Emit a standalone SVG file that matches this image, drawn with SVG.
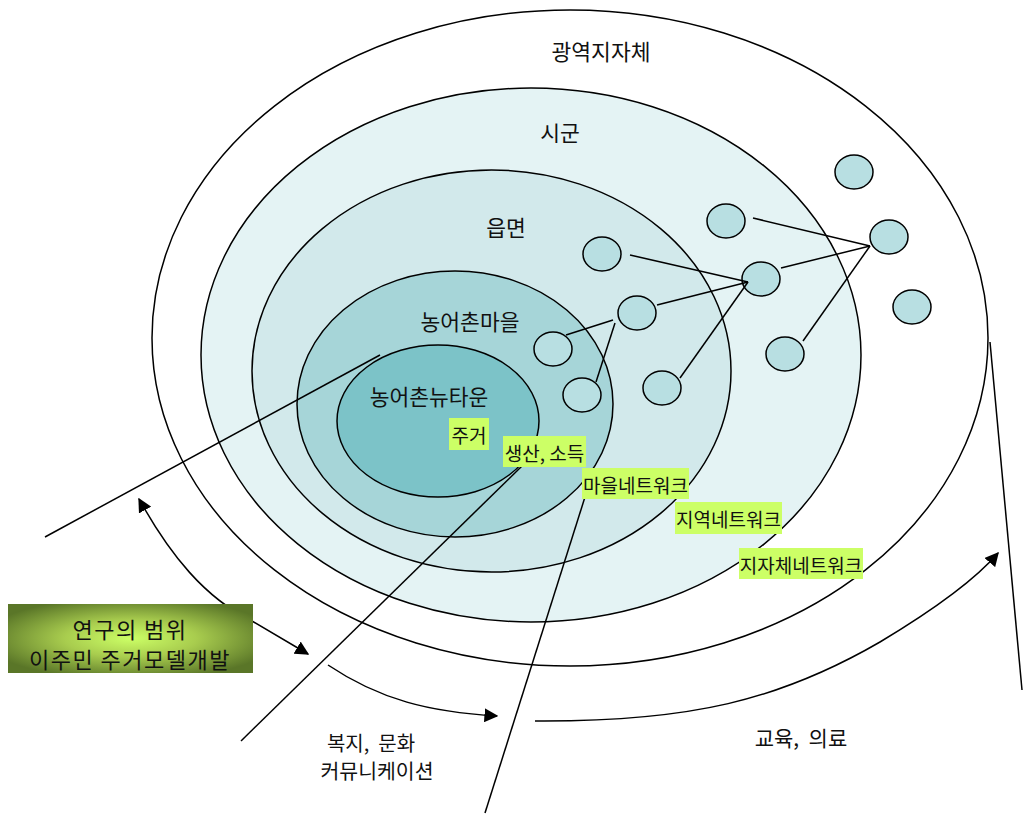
<svg xmlns="http://www.w3.org/2000/svg" width="1023" height="815" viewBox="0 0 1023 815">
<defs>
<style>
.ring{stroke:#000;stroke-width:1.5}
.dot{fill:#b8dfe2;stroke:#000;stroke-width:1.5}
.ln{stroke:#000;stroke-width:1.5;fill:none}
.t{font-family:"Noto Sans CJK KR","Liberation Sans",sans-serif;font-size:21.5px;fill:#111;text-anchor:middle;dominant-baseline:central;white-space:pre}
.lb{fill:#ccff66}
.bt{font-family:"Noto Sans CJK KR","Liberation Sans",sans-serif;font-size:19px;fill:#111;text-anchor:middle;dominant-baseline:central}
</style>
<radialGradient id="gbox" cx="0.5" cy="0.5" r="0.6">
<stop offset="0" stop-color="#ccff66"/>
<stop offset="0.45" stop-color="#a8cc4e"/>
<stop offset="1" stop-color="#5a7628"/>
</radialGradient>
<marker id="ah" viewBox="0 0 10 10" refX="9" refY="5" markerWidth="14" markerHeight="14" markerUnits="userSpaceOnUse" orient="auto-start-reverse">
<path d="M0,0 L10,5 L0,10 z" fill="#000"/>
</marker>
</defs>

<g id="region-gwangyeok">
<ellipse class="ring" cx="570" cy="338" rx="418" ry="328" fill="#ffffff"/>
<text class="t" x="601" y="50">광역지자체</text>
</g>
<g id="region-sigun">
<ellipse class="ring" cx="531" cy="355" rx="330" ry="267" fill="#e4f3f4"/>
<text class="t" x="560" y="131">시군</text>
</g>
<g id="region-eupmyeon">
<ellipse class="ring" cx="491.5" cy="371" rx="239.5" ry="201" fill="#d2e9eb"/>
<text class="t" x="506" y="226">읍면</text>
</g>
<g id="region-maeul">
<ellipse class="ring" cx="455" cy="404" rx="158" ry="133" fill="#a6d5d8"/>
<text class="t" x="470" y="320">농어촌마을</text>
</g>
<g id="region-newtown">
<ellipse class="ring" cx="438" cy="421" rx="101" ry="76" fill="#7cc3c8"/>
<text class="t" x="429" y="395">농어촌뉴타운</text>
</g>

<g id="dots">
<ellipse id="n1" class="dot" cx="854" cy="172" rx="19" ry="17"/>
<ellipse id="n2" class="dot" cx="726" cy="221" rx="19" ry="17"/>
<ellipse id="n3" class="dot" cx="602" cy="254" rx="19" ry="17"/>
<ellipse id="n4" class="dot" cx="889" cy="237" rx="19" ry="17"/>
<ellipse id="n5" class="dot" cx="761" cy="279" rx="19" ry="17"/>
<ellipse id="n6" class="dot" cx="637" cy="313" rx="19" ry="17"/>
<ellipse id="n7" class="dot" cx="912" cy="307" rx="19" ry="17"/>
<ellipse id="n8" class="dot" cx="553" cy="349" rx="19" ry="17"/>
<ellipse id="n9" class="dot" cx="785" cy="354" rx="19" ry="17"/>
<ellipse id="n10" class="dot" cx="582" cy="395" rx="19" ry="17"/>
<ellipse id="n11" class="dot" cx="662" cy="388" rx="19" ry="17"/>
</g>

<g id="connectors">
<line class="ln" x1="753" y1="218" x2="870" y2="246"/>
<line class="ln" x1="781" y1="268" x2="870" y2="246"/>
<line class="ln" x1="803" y1="341" x2="870" y2="246"/>
<line class="ln" x1="630" y1="255" x2="748" y2="282"/>
<line class="ln" x1="657" y1="305" x2="748" y2="282"/>
<line class="ln" x1="680" y1="378" x2="748" y2="282"/>
<line class="ln" x1="566" y1="335" x2="613" y2="320"/>
<line class="ln" x1="596" y1="382" x2="615" y2="323"/>
<line class="ln" x1="45" y1="537" x2="380" y2="355"/>
<line class="ln" x1="523" y1="465" x2="241" y2="741"/>
<line class="ln" x1="585" y1="497" x2="485" y2="813"/>
<line class="ln" x1="990" y1="342" x2="1022" y2="690"/>
<path class="ln" d="M308,654 L252,621 C205,598 170,555 139,499" marker-start="url(#ah)" marker-end="url(#ah)"/>
<path class="ln" d="M328,665 C380,700 430,712 497,716" marker-end="url(#ah)"/>
<path class="ln" d="M535,721 C690,722 780,700 880,642 C930,612 975,580 998,553" marker-end="url(#ah)"/>
</g>

<g id="label-jugeo">
<rect class="lb" x="449" y="418" width="40" height="32"/>
<text class="bt" x="469" y="434">주거</text>
</g>
<g id="label-saengsan">
<rect class="lb" x="503" y="436" width="83" height="31"/>
<text class="bt" x="544.5" y="452">생산, 소득</text>
</g>
<g id="label-maeulnet">
<rect class="lb" x="582" y="468" width="107" height="31"/>
<text class="bt" x="635.5" y="484">마을네트워크</text>
</g>
<g id="label-jiyeoknet">
<rect class="lb" x="675" y="502" width="107" height="32"/>
<text class="bt" x="728.5" y="518">지역네트워크</text>
</g>
<g id="label-jijachenet">
<rect class="lb" x="739" y="548" width="124" height="31"/>
<text class="bt" x="801" y="564">지자체네트워크</text>
</g>

<g id="scope-box">
<rect x="8" y="604" width="245" height="69" fill="url(#gbox)"/>
<text class="t" x="130" y="628" style="font-size:22px;letter-spacing:1.5px">연구의 범위</text>
<text class="t" x="130" y="658" style="font-size:22px;letter-spacing:1.5px">이주민 주거모델개발</text>
</g>

<g id="label-welfare">
<text class="t" x="371" y="742" style="font-size:20px">복지,  문화</text>
<text class="t" x="377" y="770" style="font-size:20.5px">커뮤니케이션</text>
</g>
<g id="label-edu">
<text class="t" x="801" y="737" style="font-size:21px">교육,  의료</text>
</g>
</svg>
